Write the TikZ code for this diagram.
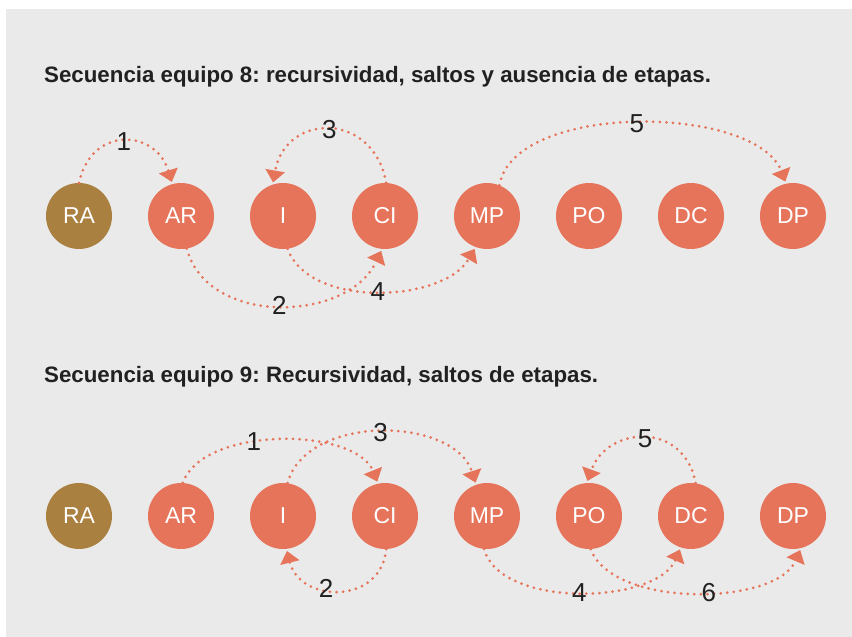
\documentclass[tikz,border=0pt]{standalone}
\usepackage{fontspec}
\setmainfont{Liberation Sans}
\usetikzlibrary{positioning,arrows.meta}
\definecolor{stage}{HTML}{E5745A}
\definecolor{origin}{HTML}{AA8040}
\definecolor{panel}{HTML}{EAEAEA}
\definecolor{ink}{HTML}{212121}
\frenchspacing

\begin{document}
\begin{tikzpicture}[x=1pt,y=1pt,>={Triangle[length=12pt,width=19pt]},node distance=102pt,
    stage node/.style={circle,fill=stage,text=white,minimum size=66pt,inner sep=0pt,font=\fontsize{23}{23}\selectfont},
    origin node/.style={stage node,fill=origin},
    flow/.style={->,shorten >=2pt,color=stage,line width=3pt,dash pattern=on 0pt off 6.6pt,line cap=round},
    num/.style={text=ink,inner sep=0pt,font=\fontsize{26}{26}\selectfont},
    title/.style={anchor=base west,inner sep=0pt,text=ink,font=\fontsize{22.3}{22.3}\selectfont\bfseries}]

    \useasboundingbox (0,0) rectangle (852,637);
    \fill[panel] (6,0) rectangle (852,628);

    % equipo 8
    \node[title] (t8) at (44,554) {Secuencia equipo 8: recursividad, saltos y ausencia de etapas.};
    \node[origin node] (ra) at (79,421) {RA};
    \node[stage node] (ar) [right of = ra] {AR};
    \node[stage node] (i)  [right of = ar] {I};
    \node[stage node] (ci) [right of = i]  {CI};
    \node[stage node] (mp) [right of = ci] {MP};
    \node[stage node] (po) [right of = mp] {PO};
    \node[stage node] (dc) [right of = po] {DC};
    \node[stage node] (dp) [right of = dc] {DP};

    \path[flow]
        (ra.90)  edge[out=78,in=107,distance=58pt]  node[num] {1} (ar.105)
        (ar.280) edge[out=285,in=245,distance=81pt] node[num] {2} (ci.265)
        (ci.88)  edge[out=100,in=80,distance=73pt]  node[num] {3} (i.108)
        (i.278)  edge[out=290,in=240,distance=64pt] node[num] {4} (mp.250)
        (mp.68)  edge[out=80,in=111,distance=85pt]  node[num] {5} (dp.102)
        ;

    % equipo 9
    \node[title] (t9) at (44,254) {Secuencia equipo 9: Recursividad, saltos de etapas.};
    \node[origin node] (ra2) at (79,121) {RA};
    \node[stage node] (ar2) [right of = ra2] {AR};
    \node[stage node] (i2)  [right of = ar2] {I};
    \node[stage node] (ci2) [right of = i2]  {CI};
    \node[stage node] (mp2) [right of = ci2] {MP};
    \node[stage node] (po2) [right of = mp2] {PO};
    \node[stage node] (dc2) [right of = po2] {DC};
    \node[stage node] (dp2) [right of = dc2] {DP};

    \path[flow]
        (ar2.87)  edge[out=70,in=112,distance=61pt]  node[num,pos=0.4] {1} (ci2.102)
        (ci2.272) edge[out=265,in=284,distance=56pt] node[num,pos=0.6] {2} (i2.276)
        (i2.82)   edge[out=75,in=108,distance=72pt]  node[num] {3} (mp2.109)
        (mp2.265) edge[out=285,in=247,distance=62pt] node[num] {4} (dc2.252)
        (dc2.82)  edge[out=100,in=70,distance=62pt]  node[num] {5} (po2.94)
        (po2.273) edge[out=290,in=247,distance=63pt] node[num,pos=0.55] {6} (dp2.284)
        ;
\end{tikzpicture}
\end{document}
